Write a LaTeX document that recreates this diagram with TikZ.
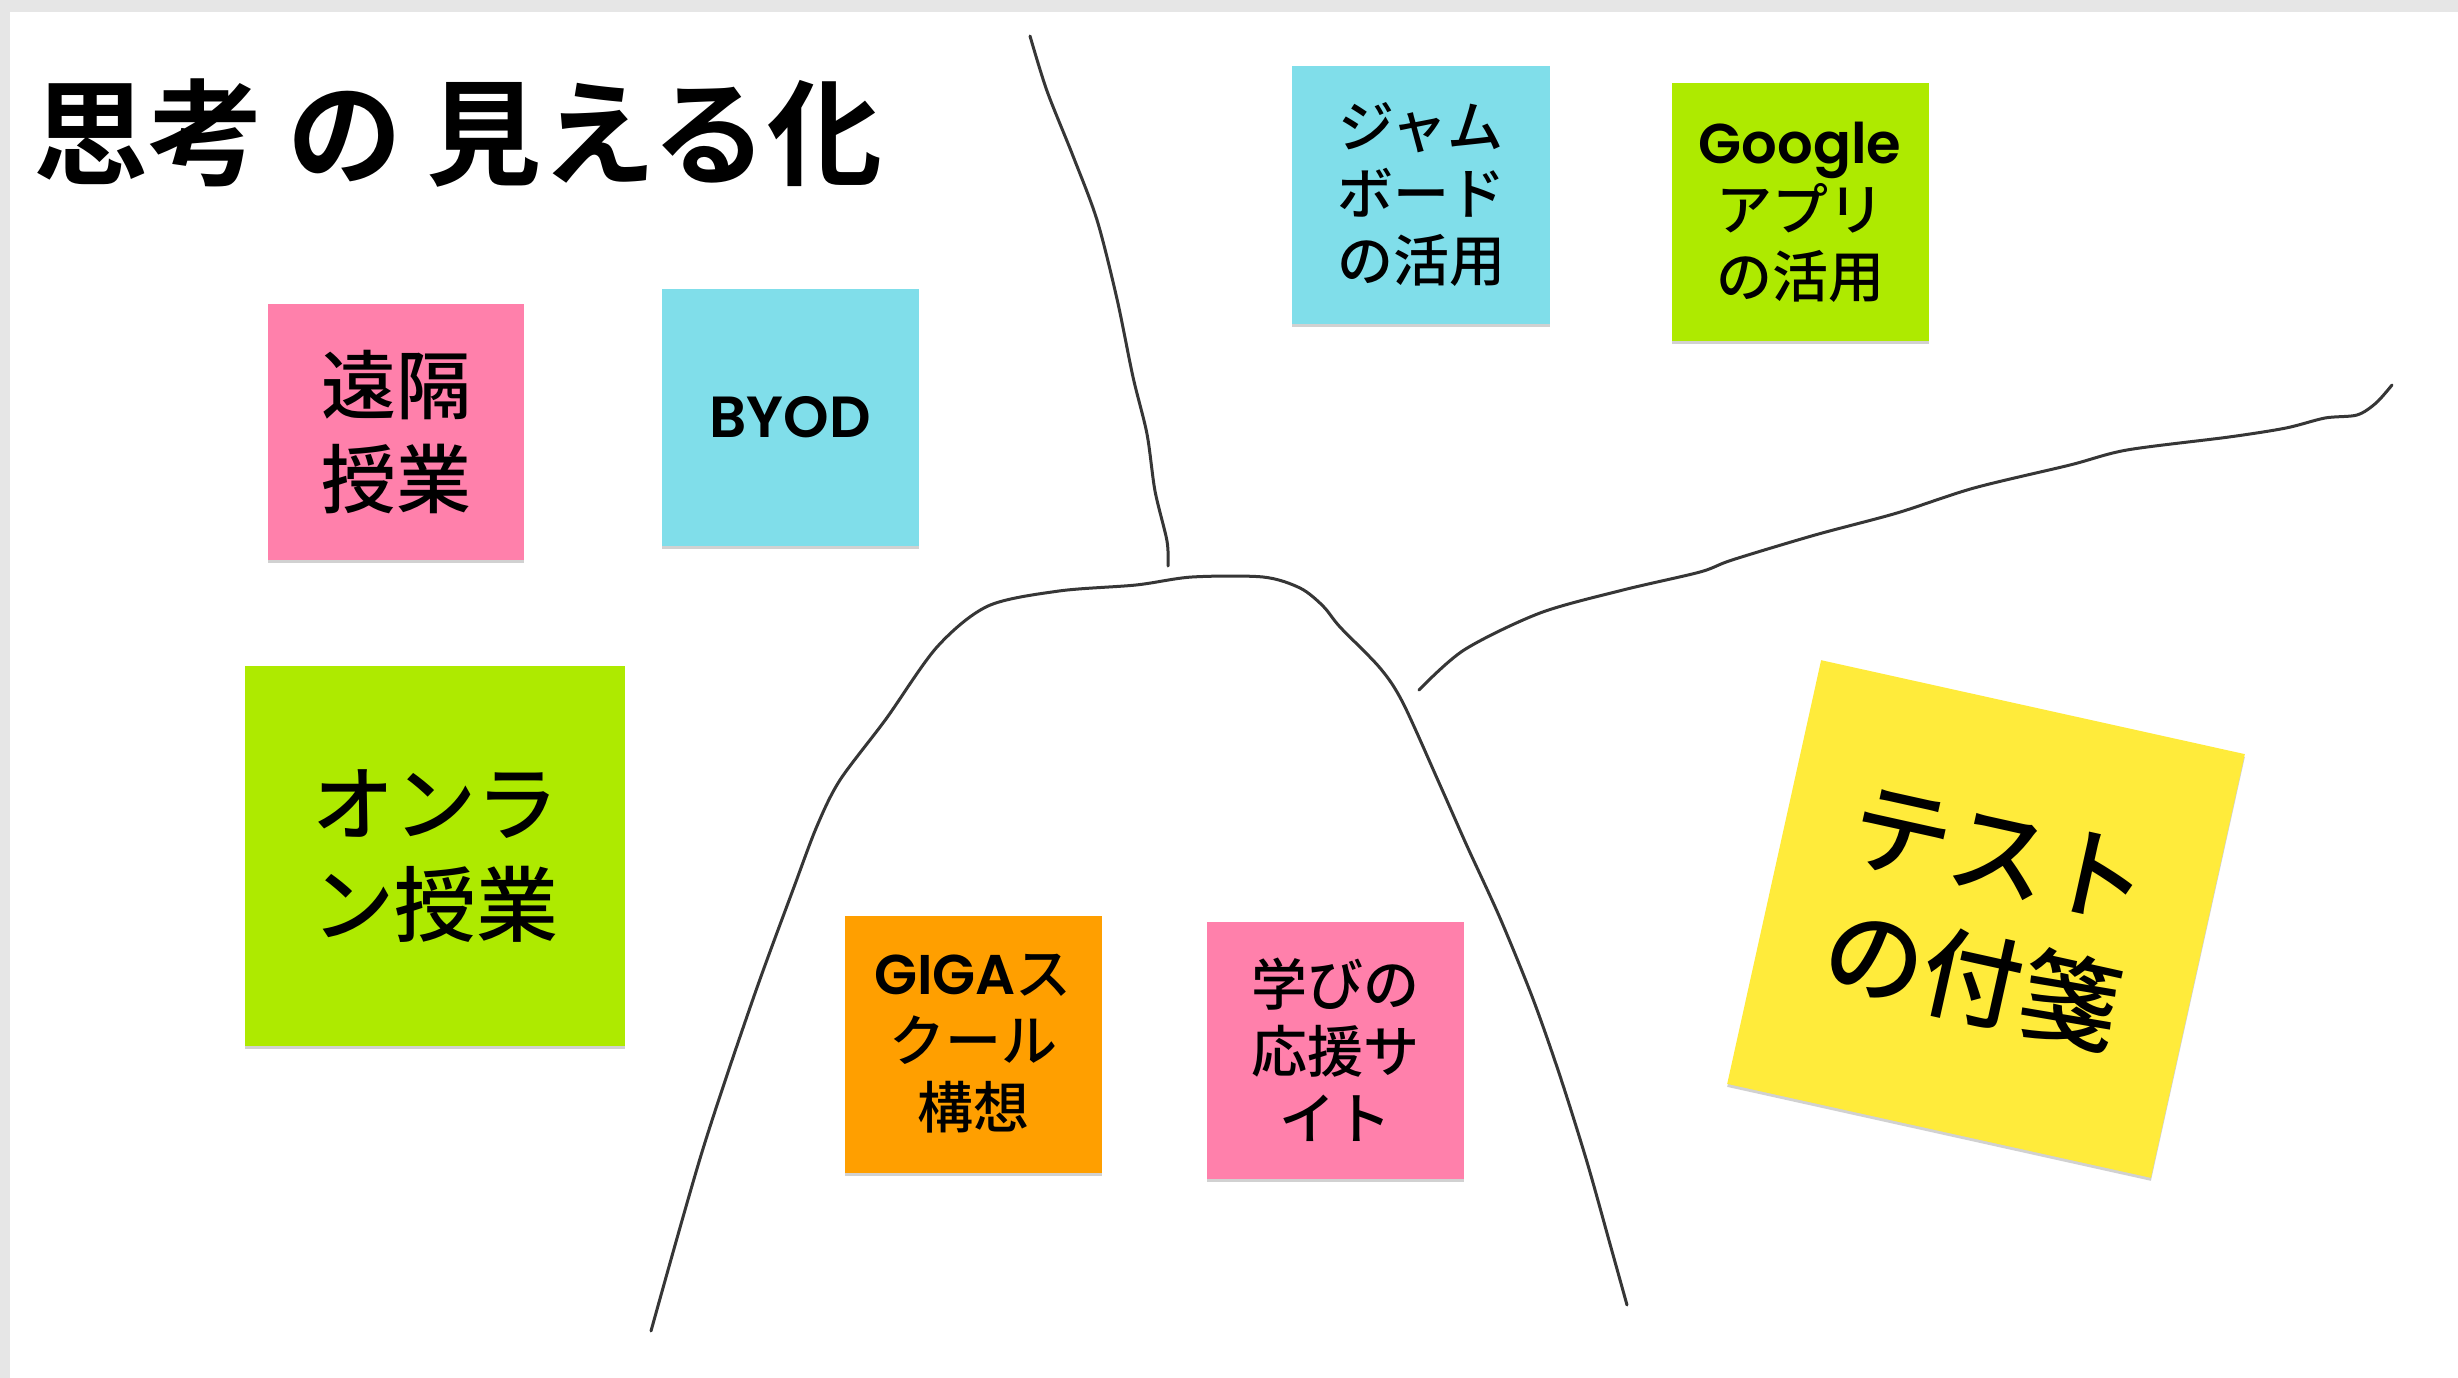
\documentclass[tikz,border=0pt]{standalone}
\usepackage{fontspec}
\usetikzlibrary{shadows}
\newfontfamily\jpb{Noto Sans CJK JP Bold}
\newfontfamily\jpm{Noto Sans CJK JP Medium}
\newfontfamily\lat{Poppins SemiBold}
\definecolor{bordergray}{HTML}{E6E6E6}
\definecolor{cpink}{HTML}{FF80AB}
\definecolor{ccyan}{HTML}{80DEEA}
\definecolor{cgreen}{HTML}{AEEA00}
\definecolor{corange}{HTML}{FF9F00}
\definecolor{cyellow}{HTML}{FFEB3B}
\definecolor{ink}{HTML}{363636}
\begin{document}
\begin{tikzpicture}[x=1pt,y=-1pt,
  note/.style={minimum width=#1, minimum height=#1, inner sep=0pt, align=center, text=black,
    drop shadow={shadow xshift=0pt, shadow yshift=-3pt, opacity=0.18, fill=black}},
  small/.style={font=\jpm\fontsize{56}{67}\selectfont},
  hand/.style={draw=ink, line width=3pt, line cap=round, line join=round}]
\useasboundingbox (0,0) rectangle (2458,1378);
\fill[bordergray] (0,0) rectangle (2458,1378);
\fill[white] (10,12) rectangle (2458,1378);

% title
\node[anchor=west, inner sep=0pt, font=\jpb\fontsize{115}{115}\selectfont] (title) at (33,133)
  {思考\hspace{24pt}の\hspace{24pt}見える化};

% hand-drawn lines
\draw[hand] plot[smooth, tension=0.5] coordinates {(1030,36) (1047,91) (1073,156) (1097,220) (1117,299) (1133,377) (1147,434) (1155,491) (1167,541) (1168,566)};
\draw[hand] plot[smooth, tension=0.5] coordinates {(651,1331) (702,1152) (753,999) (794,887) (817,826) (840,780) (886,719) (937,647) (988,606) (1059,591) (1136,585) (1192,577) (1263,577) (1300,588) (1323,606) (1340,627) (1380,668) (1403,703) (1440,785) (1467,846) (1500,918) (1533,999) (1560,1076) (1587,1162) (1610,1244) (1627,1305)};
\draw[hand] plot[smooth, tension=0.5] coordinates {(1419,690) (1464,650) (1540,613) (1623,590) (1700,572) (1732,560) (1815,535) (1897,513) (1974,488) (2070,465) (2127,450) (2229,437) (2286,428) (2325,418) (2357,415) (2376,403) (2392,385)};

% sticky notes
\node[note=256pt, fill=cpink, font=\jpm\fontsize{75}{94}\selectfont] (enkaku) at (396,432) {遠隔\\授業};
\node[note=257pt, fill=ccyan, font=\lat\fontsize{58}{67}\selectfont] (byod) at (790,417) {BYOD};
\node[note=380pt, fill=cgreen, font=\jpm\fontsize{82}{101}\selectfont] (online) at (435,856) {オンラ\\ン授業};
\node[note=258pt, fill=ccyan, small] (jam) at (1421,195) {ジャム\\ボード\\の活用};
\node[note=257pt, fill=cgreen, small] (google) at (1800,212) {{\lat Google}\\アプリ\\の活用};
\node[note=257pt, fill=corange, small] (giga) at (973,1044) {{\lat GIGA}ス\\クール\\構想};
\node[note=257pt, fill=cpink, small] (manabi) at (1335,1050) {学びの\\応援サ\\イト};
\node[note=434pt, fill=cyellow, rotate=-12.5, font=\jpm\fontsize{100}{128}\selectfont] (test) at (1986,919) {テスト\\の付箋};
\end{tikzpicture}
\end{document}
